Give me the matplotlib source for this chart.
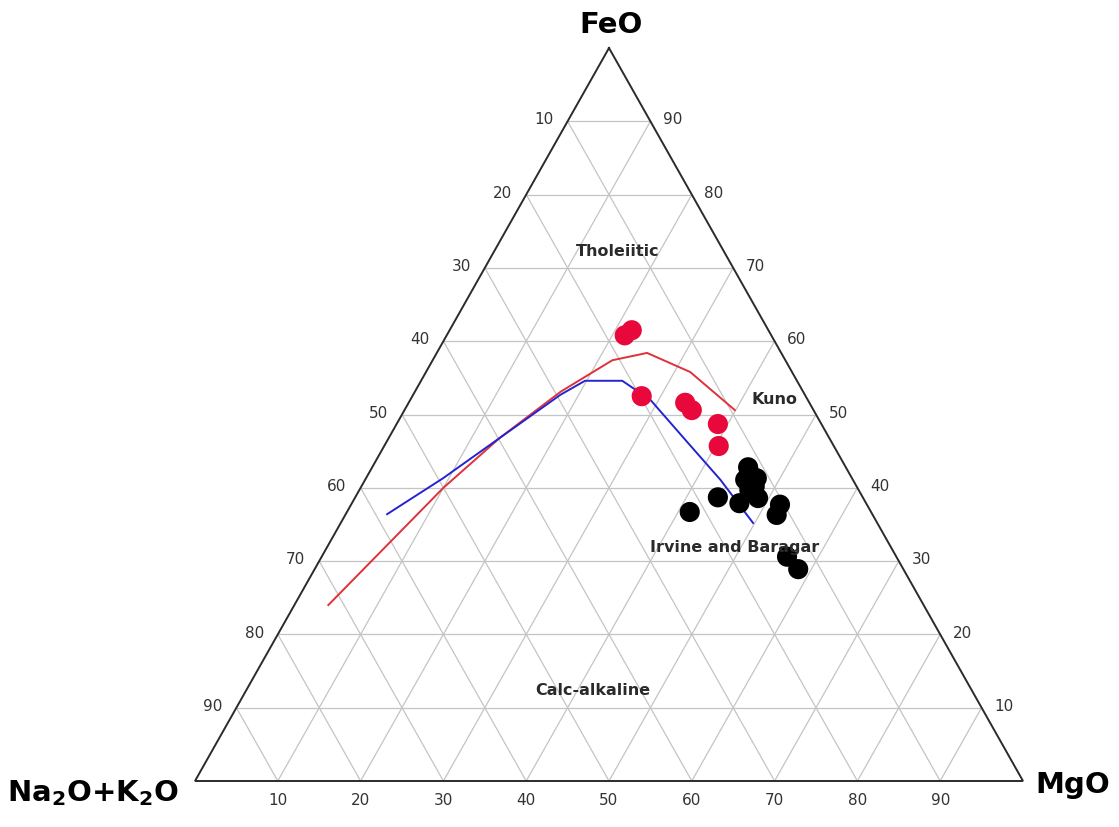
import numpy as np
import matplotlib
matplotlib.use("Agg")
import matplotlib.pyplot as plt

# ---- data (wt%, FeO / Na2O+K2O / MgO) ----
red_feo = [60.8, 61.5, 52.5, 51.6, 50.6, 48.7, 45.7]
red_alk = [17.7, 16.5, 19.8, 15.0, 14.7, 12.5, 13.9]
red_mgo = [21.5, 22.0, 27.7, 33.4, 34.7, 38.8, 40.4]

black_feo = [42.8, 41.1, 41.3, 39.7, 38.6, 37.9, 38.7, 36.7, 37.7, 36.3, 30.6, 28.9, 42.0, 40.2]
black_alk = [11.8, 13.0, 11.5, 13.2, 12.7, 15.3, 17.5, 21.9, 10.5, 11.6, 13.2, 12.7, 12.0, 12.3]
black_mgo = [45.4, 45.9, 47.2, 47.1, 48.7, 46.8, 43.8, 41.4, 51.8, 52.1, 56.2, 58.4, 46.0, 47.5]

# Kuno boundary
kuno_feo = [24.0, 40.0, 46.8, 53.1, 57.4, 58.4, 55.8, 50.6]
kuno_alk = [71.9, 50.0, 39.8, 29.3, 20.9, 16.2, 12.3, 9.5]
kuno_mgo = [4.1, 10.0, 13.4, 17.6, 21.7, 25.4, 31.9, 39.9]

# Irvine and Baragar boundary
ib_feo = [36.4, 41.3, 46.8, 52.7, 54.6, 54.6, 52.0, 46.5, 41.1, 35.2]
ib_alk = [58.6, 49.4, 39.8, 29.5, 25.6, 21.1, 19.0, 17.5, 16.0, 15.0]
ib_mgo = [5.0, 9.3, 13.4, 17.8, 19.8, 24.3, 29.0, 36.0, 42.9, 49.8]

grid_levels = [10, 20, 30, 40, 50, 60, 70, 80, 90]


def to_xy(feo, alk, mgo):
    f = np.asarray(feo, float)
    a = np.asarray(alk, float)
    m = np.asarray(mgo, float)
    tot = f + a + m
    f, m = 100 * f / tot, 100 * m / tot
    return m + f / 2.0, f


fig = plt.figure(figsize=(11.19, 8.27), dpi=100)
W, H = 1119, 827
ax = fig.add_axes([195 / W, (827 - 781) / H, (1023 - 195) / W, (781 - 48) / H])
ax.set_xlim(0, 100)
ax.set_ylim(0, 100)
ax.axis("off")

grid_kw = dict(color="#c4c4c4", lw=0.9, zorder=1)
for k in grid_levels:
    # constant FeO
    x, y = to_xy([k, k], [100 - k, 0], [0, 100 - k])
    ax.plot(x, y, **grid_kw)
    # constant MgO
    x, y = to_xy([0, 100 - k], [100 - k, 0], [k, k])
    ax.plot(x, y, **grid_kw)
    # constant Na2O+K2O
    x, y = to_xy([0, 100 - k], [k, k], [100 - k, 0])
    ax.plot(x, y, **grid_kw)

# triangle outline
x, y = to_xy([100, 0, 0, 100], [0, 100, 0, 0], [0, 0, 100, 0])
ax.plot(x, y, color="#2b2b2b", lw=1.4, zorder=2, clip_on=False, solid_joinstyle="miter")

# tick labels
tick_kw = dict(fontsize=11, color="#333333", ha="center", va="center",
               textcoords="offset points", annotation_clip=False)
for k in grid_levels:
    xl, yl = to_xy([k], [100 - k], [0])
    ax.annotate(str(100 - k), (xl[0], yl[0]), xytext=(-17, 1), **tick_kw)
    xr, yr = to_xy([k], [0], [100 - k])
    ax.annotate(str(k), (xr[0], yr[0]), xytext=(16, 1), **tick_kw)
    xb, yb = to_xy([0], [100 - k], [k])
    ax.annotate(str(k), (xb[0], yb[0]), xytext=(0, -14), **tick_kw)

# boundary curves
x, y = to_xy(kuno_feo, kuno_alk, kuno_mgo)
ax.plot(x, y, color="#e0303a", lw=1.4, zorder=3)
x, y = to_xy(ib_feo, ib_alk, ib_mgo)
ax.plot(x, y, color="#2424d0", lw=1.4, zorder=3)

# samples
x, y = to_xy(red_feo, red_alk, red_mgo)
ax.scatter(x, y, s=210, color="#e8083c", edgecolors="none", zorder=4)
x, y = to_xy(black_feo, black_alk, black_mgo)
ax.scatter(x, y, s=210, color="black", edgecolors="none", zorder=4)

# field names
lab_kw = dict(fontsize=11.5, color="#2a2a2a", ha="center", va="center",
              fontweight="semibold", zorder=5)
ax.text(51.1, 72.2, "Tholeiitic", **lab_kw)
ax.text(70.0, 52.0, "Kuno", **lab_kw)
ax.text(65.2, 31.8, "Irvine and Baragar", **lab_kw)
ax.text(48.1, 12.4, "Calc-alkaline", **lab_kw)

# apex names
apex_kw = dict(fontsize=21, fontweight="bold", color="black", ha="center",
               va="center", clip_on=False)
ax.text(50.2, 103.2, "FeO", **apex_kw)
ax.text(106.0, -0.6, "MgO", **apex_kw)
ax.text(-12.3, -1.7, "Na$_\\mathregular{2}$O+K$_\\mathregular{2}$O", **apex_kw)

fig.savefig("out.png", dpi=100)
